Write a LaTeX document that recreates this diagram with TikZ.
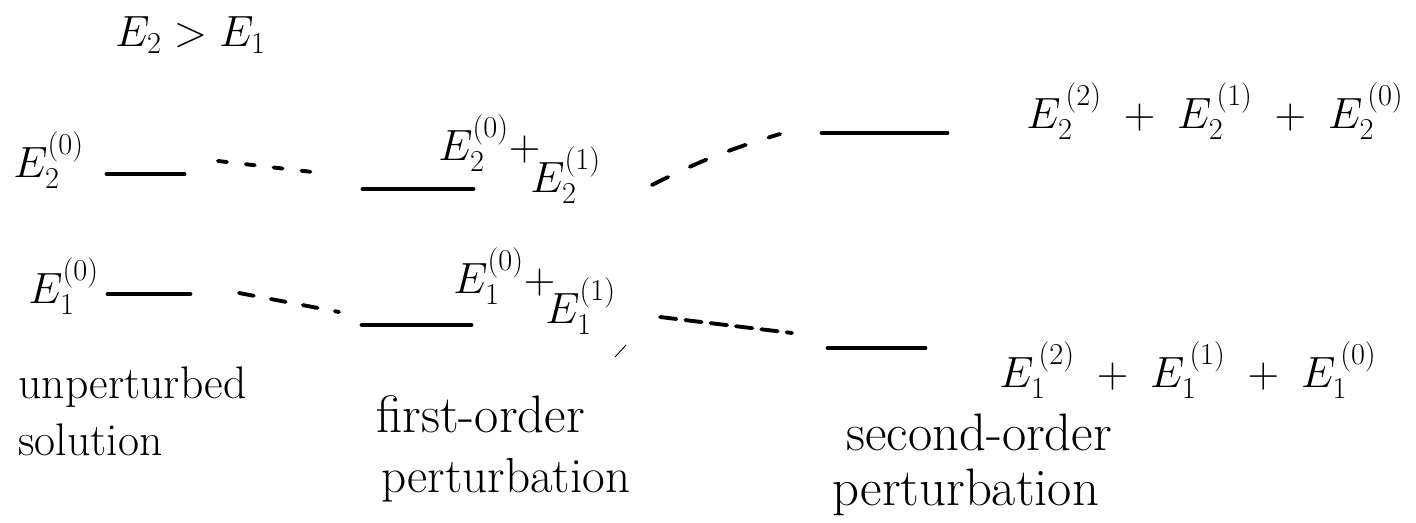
\documentclass[tikz,border=0pt]{standalone}
\usepackage{amsmath,amssymb}
\usepackage{xcolor}
\usepackage{tikz}
\usetikzlibrary{arrows.meta,positioning,calc}

\begin{document}
\begin{tikzpicture}[font=\fontsize{26}{30}\selectfont,
  level/.style={line width=2.8pt,line cap=round},
  link/.style={line width=2.2pt,line cap=round},
  lab/.style={inner sep=0pt,anchor=base west}]
\useasboundingbox (0,0) rectangle (28.32,10.44);
% energy levels: unperturbed, first order, second order
\foreach \n/\xa/\xb/\y in {u2/2.14/3.68/6.96,f2/7.26/9.46/6.66,s2/16.44/18.94/7.78,
                          u1/2.16/3.80/4.56,f1/7.24/9.42/3.94,s1/16.56/18.50/3.48}{
  \coordinate (\n l) at (\xa,\y);
  \coordinate (\n r) at (\xb,\y);
  \draw[level] (\n l) -- (\n r);
}
% ends of the dashed links
\coordinate (d2a) at (4.36,7.22);  \coordinate (d2b) at (6.42,6.98);
\coordinate (e2a) at (13.04,6.74); \coordinate (e2b) at (15.6,7.76);
\coordinate (d1a) at (4.78,4.58);  \coordinate (d1b) at (6.78,4.20);
\coordinate (e1a) at (13.2,4.10);  \coordinate (e1b) at (15.84,3.78);
\draw[link,dash pattern=on 0.18cm off 0.38cm] (d2a) -- (d2b);
\draw[link,dash pattern=on 0.36cm off 0.48cm] (e2a) to[bend left=5] (e2b);
\draw[link,dash pattern=on 0.3cm off 0.35cm] (d1a) -- (d1b);
\draw[link,dash pattern=on 0.33cm off 0.18cm] (e1a) -- (e1b);
\draw[line width=0.5pt] (12.3,3.30) -- (12.52,3.54);
% labels
\begin{scope}[font=\fontsize{25}{30}\selectfont]
\node[lab] (order) at (2.3,9.50) {$E_2 > E_1$};
\node[lab] (u2t) at (0.26,6.90) {$E_2^{(0)}$};
\node[lab] (u1t) at (0.56,4.38) {$E_1^{(0)}$};
\node[lab] (f2a) at (8.76,7.24) {$E_2^{(0)} +$};
\node[lab] (f2b) at (10.6,6.60) {$E_2^{(1)}$};
\node[lab] (f1a) at (9.06,4.58) {$E_1^{(0)} +$};
\node[lab] (f1b) at (10.9,3.98) {$E_1^{(1)}$};
\node[lab] (s2t) at (20.52,7.88) {$E_2^{\,(2)}\;+\;E_2^{\,(1)}\;+\;E_2^{\,(0)}$};
\node[lab] (s1t) at (19.98,2.70) {$E_1^{\,(2)}\;+\;E_1^{\,(1)}\;+\;E_1^{\,(0)}$};
\end{scope}
\node[lab] (c0a) at (0.36,2.48) {unperturbed};
\node[lab] (c0b) at (0.36,1.34) {solution};
\node[lab,font=\fontsize{30}{34}\selectfont] (c1a) at (7.52,1.80) {first-order};
\node[lab,font=\fontsize{28}{32}\selectfont] (c1b) at (7.62,0.60) {perturbation};
\node[lab,font=\fontsize{30}{34}\selectfont] (c2a) at (16.92,1.44) {second-order};
\node[lab,font=\fontsize{30}{34}\selectfont] (c2b) at (16.64,0.34) {perturbation};
\end{tikzpicture}
\end{document}
